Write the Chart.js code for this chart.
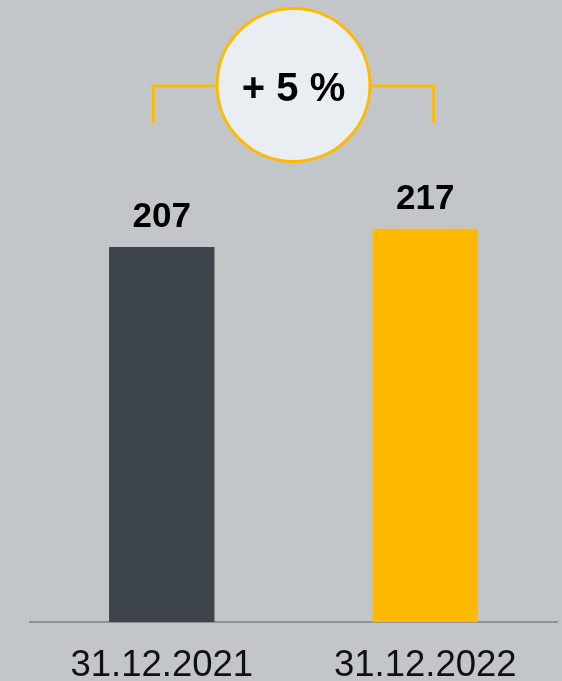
<!DOCTYPE html>
<html>
<head>
<meta charset="utf-8">
<script src="https://cdn.jsdelivr.net/npm/chart.js@4"></script>
<style>
html,body{margin:0;padding:0;background:#c3c6c9;}
#wrap{width:562px;height:681px;position:relative;}
</style>
</head>
<body>
<div id="wrap"><canvas id="c" width="562" height="681"></canvas></div>
<script>
const categories = ["31.12.2021", "31.12.2022"];
const values = [207, 217];
const barColors = ["#3d444b", "#ffb900"];

const valueLabels = {
  id: 'valueLabels',
  afterDatasetsDraw(chart) {
    const ctx = chart.ctx;
    const meta = chart.getDatasetMeta(0);
    ctx.save();
    ctx.font = 'bold 35px "Liberation Sans", Arial, sans-serif';
    ctx.fillStyle = '#000';
    ctx.textAlign = 'center';
    ctx.textBaseline = 'alphabetic';
    meta.data.forEach((bar, i) => {
      ctx.fillText(String(values[i]), bar.x, bar.y - 20);
    });
    ctx.restore();
  }
};

const changeBadge = {
  id: 'changeBadge',
  afterDraw(chart) {
    const ctx = chart.ctx;
    const meta = chart.getDatasetMeta(0);
    const x1 = meta.data[0].x - 8.5;
    const x2 = meta.data[1].x + 8.5;
    const top = chart.chartArea.top;
    const yTop = top + 7.5;
    const yBot = top + 44.5;
    const cx = (x1 + x2) / 2;
    const cy = top + 6.5;
    ctx.save();
    ctx.strokeStyle = '#ffb900';
    ctx.lineWidth = 3;
    ctx.beginPath();
    ctx.moveTo(x1, yBot);
    ctx.lineTo(x1, yTop);
    ctx.lineTo(x2, yTop);
    ctx.lineTo(x2, yBot);
    ctx.stroke();
    ctx.beginPath();
    ctx.arc(cx, cy, 76.5, 0, Math.PI * 2);
    ctx.fillStyle = '#e8eef1';
    ctx.fill();
    ctx.stroke();
    const pct = Math.round((values[1] - values[0]) / values[0] * 100);
    ctx.fillStyle = '#000';
    ctx.font = 'bold 40px "Liberation Sans", Arial, sans-serif';
    ctx.textAlign = 'center';
    ctx.textBaseline = 'alphabetic';
    ctx.fillText('+ ' + pct + ' %', cx, cy + 16);
    ctx.restore();
  }
};

new Chart(document.getElementById('c'), {
  type: 'bar',
  data: {
    labels: categories,
    datasets: [{
      data: values,
      backgroundColor: barColors,
      borderWidth: 0,
      barPercentage: 0.4,
      categoryPercentage: 1.0
    }]
  },
  options: {
    responsive: false,
    animation: false,
    devicePixelRatio: 1,
    layout: { padding: { left: 30, right: 5, top: 78.5, bottom: -29 } },
    plugins: { legend: { display: false }, tooltip: { enabled: false } },
    scales: {
      y: { display: false, min: 0, max: 300 },
      x: {
        grid: { display: false, drawTicks: false },
        border: { display: true, color: '#8e9297', width: 2 },
        ticks: {
          color: '#111',
          padding: 25,
          font: { family: '"Liberation Sans", Arial, sans-serif', size: 36.5, lineHeight: 38 / 36.5 }
        }
      }
    }
  },
  plugins: [valueLabels, changeBadge]
});
</script>
</body>
</html>
